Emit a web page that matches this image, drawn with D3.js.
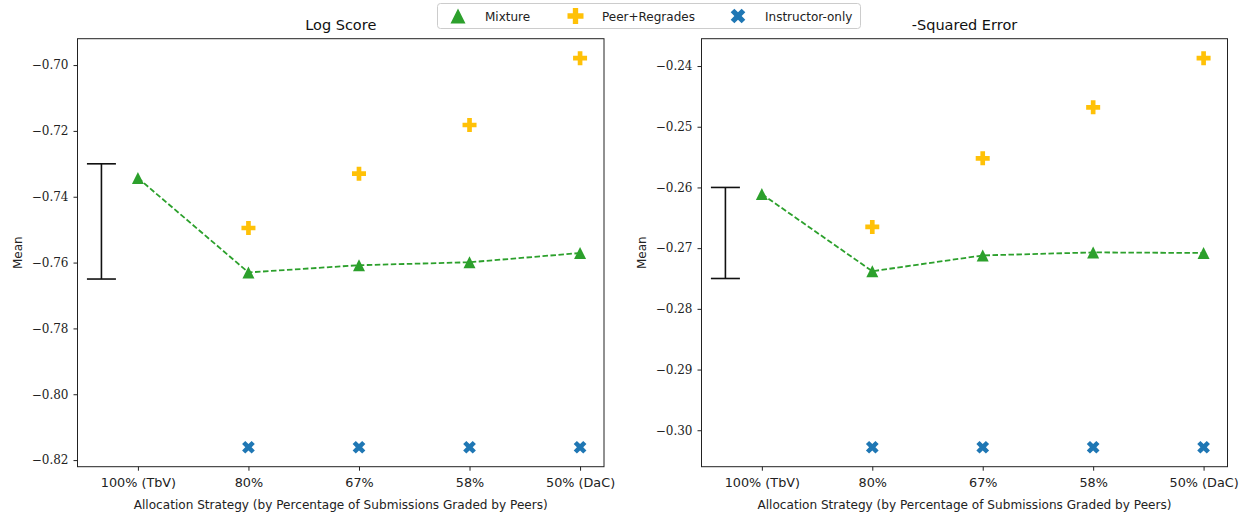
<!DOCTYPE html>
<html>
<head>
<meta charset="utf-8">
<script src="https://cdn.jsdelivr.net/npm/d3@7"></script>
<style>
  html, body { margin: 0; padding: 0; background: #fff; }
  svg { display: block; }
  .sans { font-family: "DejaVu Sans", sans-serif; }
  .serif { font-family: "DejaVu Serif", serif; }
</style>
</head>
<body>
<svg id="chart" width="1246" height="517"></svg>
<script>
// Allocation strategies (share of submissions graded by peers)
const categories = ["100% (TbV)", "80%", "67%", "58%", "50% (DaC)"];

// Log score means
const logMixture    = [-0.7343, -0.7630, -0.7608, -0.7599, -0.7571];
const logPeer       = [null, -0.7495, -0.7330, -0.7182, -0.6979];
const logInstructor = [null, -0.8161, -0.8161, -0.8161, -0.8161];
const logErrorBar   = [-0.765, -0.730];
const logTicks      = [-0.70, -0.72, -0.74, -0.76, -0.78, -0.80, -0.82];

// Negative squared error means
const sqMixture    = [-0.2611, -0.2738, -0.2712, -0.2707, -0.2708];
const sqPeer       = [null, -0.2665, -0.2552, -0.2468, -0.2387];
const sqInstructor = [null, -0.3028, -0.3028, -0.3028, -0.3028];
const sqErrorBar   = [-0.275, -0.260];
const sqTicks      = [-0.24, -0.25, -0.26, -0.27, -0.28, -0.29, -0.30];

const legendLabels = ["Mixture", "Peer+Regrades", "Instructor-only"];
const colors = { mixture: "#2ca02c", peer: "#ffc107", instructor: "#1f77b4" };

const errorBarX = -0.33;   // position of the reference interval on the category axis

const svg = d3.select("#chart");

// marker shapes, centred on their bounding box
function trianglePath(s) {
  const h = s / 2;
  return `M0,${-h}L${h},${h}L${-h},${h}Z`;
}
function plusPath(s) {
  const a = s / 2, t = s / 6;
  return `M${-t},${-a}H${t}V${-t}H${a}V${t}H${t}V${a}H${-t}V${t}H${-a}V${-t}H${-t}Z`;
}
function crossPath(s) {
  const a = s / 2, t = s / 6;
  // plus rotated by 45 degrees
  const pts = [[-t,-a],[t,-a],[t,-t],[a,-t],[a,t],[t,t],[t,a],[-t,a],[-t,t],[-a,t],[-a,-t],[-t,-t]];
  const c = Math.SQRT1_2;
  return "M" + pts.map(([x, y]) => [(x - y) * c, (x + y) * c].map(v => v.toFixed(2)).join(",")).join("L") + "Z";
}

function panel(opts) {
  const { left, right, plotTop, plotBottom, title, mixture, peer, instructor, err, ticks } = opts;
  const g = svg.append("g");

  const xLo = errorBarX, xHi = categories.length - 1;
  const xPad = (xHi - xLo) * 0.05;
  const x = d3.scaleLinear().domain([xLo - xPad, xHi + xPad]).range([left, right]);

  const allY = [...mixture, ...peer, ...instructor, ...err].filter(v => v != null);
  const yLo = d3.min(allY), yHi = d3.max(allY);
  const yPad = (yHi - yLo) * 0.05;
  const y = d3.scaleLinear().domain([yLo - yPad, yHi + yPad]).range([plotBottom, plotTop]);

  // axes
  const xAxis = d3.axisBottom(x)
    .tickValues(d3.range(categories.length))
    .tickFormat(i => categories[i])
    .tickSize(4).tickPadding(7);
  const xg = g.append("g").attr("transform", `translate(0,${plotBottom})`).call(xAxis);
  xg.select(".domain").remove();
  xg.selectAll("text").attr("class", "sans").attr("font-size", 12.8).attr("fill", "#222");

  const yAxis = d3.axisLeft(y)
    .tickValues(ticks)
    .tickFormat(v => d3.format(".2f")(v).replace("-", "\u2212"))
    .tickSize(4).tickPadding(5);
  const yg = g.append("g").attr("transform", `translate(${left},0)`).call(yAxis);
  yg.select(".domain").remove();
  yg.selectAll("text").attr("class", "serif").attr("font-size", 12).attr("fill", "#222");
  g.selectAll(".tick line").attr("stroke", "#222").attr("stroke-width", 1);

  // frame
  g.append("rect")
    .attr("x", left).attr("y", plotTop)
    .attr("width", right - left).attr("height", plotBottom - plotTop)
    .attr("fill", "none").attr("stroke", "#222").attr("stroke-width", 1);

  // titles and labels
  g.append("text").attr("class", "sans")
    .attr("x", (left + right) / 2).attr("y", 30)
    .attr("text-anchor", "middle").attr("font-size", 14.5).attr("fill", "#111")
    .text(title);
  g.append("text").attr("class", "sans")
    .attr("x", (left + right) / 2).attr("y", 509)
    .attr("text-anchor", "middle").attr("font-size", 12.1).attr("fill", "#222")
    .text("Allocation Strategy (by Percentage of Submissions Graded by Peers)");
  g.append("text").attr("class", "sans")
    .attr("transform", `translate(${left - 56},${(plotTop + plotBottom) / 2}) rotate(-90)`)
    .attr("text-anchor", "middle").attr("font-size", 12).attr("fill", "#222")
    .text("Mean");

  // reference interval
  const ex = x(errorBarX), cap = 14.5;
  const eg = g.append("g").attr("stroke", "#111").attr("stroke-width", 1.6);
  eg.append("line").attr("x1", ex).attr("x2", ex).attr("y1", y(err[0])).attr("y2", y(err[1]));
  err.forEach(v => eg.append("line").attr("x1", ex - cap).attr("x2", ex + cap).attr("y1", y(v)).attr("y2", y(v)));

  // mixture dashed line
  const line = d3.line().x((d, i) => x(i)).y(d => y(d));
  g.append("path").datum(mixture)
    .attr("d", line).attr("fill", "none")
    .attr("stroke", colors.mixture).attr("stroke-width", 1.8)
    .attr("stroke-dasharray", "5.5,2.5");

  const drawMarkers = (vals, path, color) => {
    g.append("g").selectAll("path")
      .data(vals.map((v, i) => [i, v]).filter(d => d[1] != null))
      .join("path")
      .attr("transform", d => `translate(${x(d[0])},${y(d[1])})`)
      .attr("d", path).attr("fill", color);
  };
  drawMarkers(mixture, trianglePath(12), colors.mixture);
  drawMarkers(peer, plusPath(14), colors.peer);
  drawMarkers(instructor, crossPath(13.5), colors.instructor);
}

const plotTop = 38.7, plotBottom = 466.7;
panel({ left: 77.5, right: 604, plotTop, plotBottom, title: "Log Score",
        mixture: logMixture, peer: logPeer, instructor: logInstructor, err: logErrorBar, ticks: logTicks });
panel({ left: 701.5, right: 1227.5, plotTop, plotBottom, title: "-Squared Error",
        mixture: sqMixture, peer: sqPeer, instructor: sqInstructor, err: sqErrorBar, ticks: sqTicks });

// legend
const lg = svg.append("g");
lg.append("rect").attr("x", 437.5).attr("y", 3.5).attr("width", 423).attr("height", 25)
  .attr("rx", 3).attr("fill", "#fff").attr("stroke", "#ccc").attr("stroke-width", 1);
const legendItems = [
  { label: legendLabels[0], path: trianglePath(15), color: colors.mixture, mx: 458, tx: 485 },
  { label: legendLabels[1], path: plusPath(16), color: colors.peer, mx: 575.5, tx: 602 },
  { label: legendLabels[2], path: crossPath(15.5), color: colors.instructor, mx: 738, tx: 765 }
];
legendItems.forEach(it => {
  lg.append("path").attr("transform", `translate(${it.mx},16)`).attr("d", it.path).attr("fill", it.color);
  lg.append("text").attr("class", "sans").attr("x", it.tx).attr("y", 20.5)
    .attr("font-size", 12).attr("fill", "#222").text(it.label);
});
</script>
</body>
</html>
